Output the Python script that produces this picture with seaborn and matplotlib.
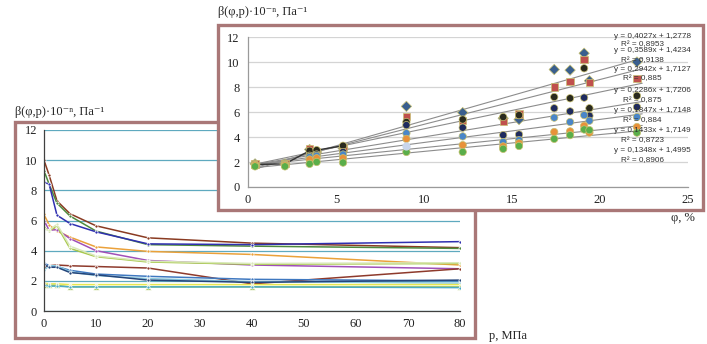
import numpy as np
import pandas as pd
import matplotlib
matplotlib.use("Agg")
import matplotlib.pyplot as plt
from matplotlib.patches import Rectangle
import seaborn as sns

# === LEFT PANEL DATA: beta vs pressure ===
p_mpa = [0, 1, 2.5, 5, 10, 20, 40, 80]
left_series = {
    "s1": [10.0, 9.0, 7.3, 6.45, 5.65, 4.85, 4.5, 4.2],
    "s2": [9.3, 8.4, 7.15, 6.3, 5.3, 4.4, 4.3, 4.15],
    "s3": [8.55, 8.4, 6.35, 5.8, 5.25, 4.45, 4.4, 4.6],
    "s4": [6.4, 5.7, 5.3, 4.9, 4.25, 3.95, 3.75, 3.05],
    "s5": [6.0, 5.35, 5.4, 4.8, 4.0, 3.35, 3.05, 2.8],
    "s6": [5.55, 5.3, 5.65, 4.15, 3.6, 3.25, 3.1, 3.15],
    "s7": [5.45, 5.35, 5.75, 4.3, 3.65, 3.3, 3.15, 3.2],
    "s8": [2.95, 3.0, 3.05, 3.0, 2.95, 2.85, 1.8, 2.8],
    "s9": [3.2, 3.0, 2.95, 2.7, 2.45, 2.3, 2.1, 2.0],
    "s10": [2.7, 3.0, 3.0, 2.6, 2.35, 2.15, 1.95, 1.85],
    "s11": [3.1, 2.9, 2.9, 2.55, 2.4, 2.05, 1.9, 2.05],
    "s12": [1.85, 1.8, 1.8, 1.75, 1.75, 1.75, 1.75, 1.75],
    "s13": [1.75, 1.7, 1.7, 1.6, 1.6, 1.6, 1.6, 1.6],
    "s14": [1.7, 1.65, 1.65, 1.6, 1.6, 1.6, 1.6, 1.55],
}
left_colors = {
    "s1": "#8a3b22", "s2": "#4e8a3e", "s3": "#2f2fb0", "s4": "#eba13a",
    "s5": "#a050b8", "s6": "#a8c84c", "s7": "#d9e8b8", "s8": "#8e3a2c",
    "s9": "#3f78c0", "s10": "#8ccbe0", "s11": "#25457a", "s12": "#e8e850",
    "s13": "#a6c65a", "s14": "#4bacc6",
}

# === RIGHT PANEL DATA: beta vs porosity ===
phi = [0.4, 2.1, 3.5, 3.9, 5.4, 9.0, 12.2, 14.5, 15.4, 17.4, 18.3, 19.1, 19.4, 22.1]
right_series = {
    "diamond": [1.85, 1.85, 3.0, 2.8, 3.1, 6.45, 5.95, 5.5, 5.4, 9.4, 9.35, 10.7, 8.5, 10.0],
    "square": [1.85, 1.9, 3.05, 2.8, 3.15, 5.65, 5.3, 5.25, 5.85, 8.0, 8.45, 10.2, 8.35, 8.7],
    "olive": [1.8, 1.85, 2.9, 2.95, 3.3, 5.2, 5.4, 5.6, 5.75, 7.2, 7.1, 9.5, 6.3, 7.3],
    "navy": [1.8, 1.8, 2.5, 2.6, 2.8, 4.95, 4.75, 4.15, 4.2, 6.3, 6.05, 7.15, 5.7, 6.4],
    "blue": [1.75, 1.8, 2.4, 2.5, 2.6, 4.3, 4.05, 3.6, 3.75, 5.55, 5.2, 5.75, 5.3, 5.6],
    "orange": [1.75, 1.75, 2.2, 2.3, 2.3, 3.85, 3.35, 3.25, 3.5, 4.4, 4.45, 4.9, 4.35, 4.8],
    "green": [1.65, 1.65, 1.85, 2.0, 1.95, 2.8, 2.8, 3.05, 3.28, 3.85, 4.15, 4.6, 4.55, 4.35],
}
right_colors = {
    "diamond": "#3a5f8e", "square": "#c0504d", "olive": "#2a2a1e", "navy": "#1f2b5e",
    "blue": "#4a86c8", "orange": "#e8913a", "green": "#5aae4a",
}
right_markers = {
    "diamond": "D", "square": "s", "olive": "o", "navy": "o",
    "blue": "o", "orange": "o", "green": "o",
}
slopes = [0.4027, 0.3589, 0.2942, 0.2286, 0.1847, 0.1433, 0.1348]
intercepts = [1.2778, 1.4234, 1.7127, 1.7206, 1.7148, 1.7149, 1.4995]
r2 = ["0,8953", "0,9138", "0,885", "0,875", "0,884", "0,8723", "0,8906"]
eq_y = [12.08, 10.92, 9.42, 7.72, 6.12, 4.52, 2.92]
r2_y = [11.42, 10.08, 8.68, 6.94, 5.34, 3.68, 2.08]

title_text = "\u03b2(\u03c6,p)\u00b710\u207b\u207f, \u041f\u0430\u207b\u00b9"
serif = ["Liberation Serif", "DejaVu Serif"]
sans = ["Liberation Sans", "DejaVu Sans"]

sns.set_theme(style="white")
plt.rcParams["font.family"] = serif

fig = plt.figure(figsize=(7.07, 3.44), dpi=100)
frame_col = "#a97777"

# === LEFT PANEL ===
axl = fig.add_axes([0.0622, 0.0959, 0.5884, 0.5262], zorder=1)
axl.patch.set_alpha(0)
long_left = pd.DataFrame(
    [(p, v, k) for k, vals in left_series.items() for p, v in zip(p_mpa, vals)],
    columns=["p", "beta", "series"],
)
for name, grp in long_left.groupby("series", sort=False):
    mk = "^" if name == "s13" else "o"
    ms = 4.5 if name == "s13" else 2.2
    sns.lineplot(data=grp, x="p", y="beta", ax=axl, color=left_colors[name],
                 lw=1.1, marker=mk, markersize=ms, markeredgewidth=0.5,
                 legend=False)
axl.set_xlim(0, 80)
axl.set_ylim(0, 12)
axl.set_xticks(range(0, 81, 10))
axl.set_yticks(range(0, 13, 2))
axl.yaxis.grid(True, color="#5fa9bf", lw=0.9)
axl.xaxis.grid(False)
axl.set_axisbelow(True)
for s in ["top", "right"]:
    axl.spines[s].set_visible(False)
for s in ["left", "bottom"]:
    axl.spines[s].set_color("#404040")
    axl.spines[s].set_linewidth(0.9)
axl.tick_params(axis="both", labelsize=9, colors="#222222", length=3,
                width=0.8, direction="out", pad=2)
axl.set_xlabel("")
axl.set_ylabel("")

fig.add_artist(Rectangle((0.0212, 0.0174), 0.6506, 0.628, transform=fig.transFigure,
                         fill=False, ec=frame_col, lw=2.4, zorder=2))
fig.text(0.0212, 0.674, title_text, fontsize=9, va="center", ha="left", family=serif)
fig.text(0.718, 0.005, "p, \u041c\u041f\u0430", fontsize=9, va="bottom", ha="center",
         family=serif)

# === RIGHT PANEL ===
fig.add_artist(Rectangle((0.3083, 0.3895), 0.686, 0.5378, transform=fig.transFigure,
                         fc="white", ec=frame_col, lw=2.4, zorder=3))
axr = fig.add_axes([0.3508, 0.4564, 0.6223, 0.436], zorder=4)
axr.patch.set_alpha(0)
long_right = pd.DataFrame(
    [(x, v, k) for k, vals in right_series.items() for x, v in zip(phi, vals)],
    columns=["phi", "beta", "series"],
)

# trend lines from the fitted equations
x_line = np.array([phi[0], phi[-1] + 0.3])
for a, b in zip(slopes, intercepts):
    axr.plot(x_line, a * x_line + b, color="#8c8c8c", lw=0.8, zorder=2)

# early segment of dark series
early = long_right[(long_right["series"] == "olive") & (long_right["phi"] <= 5.4)]
sns.lineplot(data=early, x="phi", y="beta", ax=axr, color="#333333", lw=1.0,
             legend=False, zorder=2)

sns.scatterplot(data=long_right, x="phi", y="beta", hue="series", style="series",
                palette=right_colors, markers=right_markers, s=28, ax=axr,
                edgecolor="#c8c070", linewidth=0.5, legend=False, zorder=3)
axr.scatter([9.0], [3.25], s=24, color="#c9d6ec", zorder=3)

axr.set_xlim(0, 25)
axr.set_ylim(0, 12)
axr.set_xticks(range(0, 26, 5))
axr.set_yticks(range(0, 13, 2))
axr.yaxis.grid(True, color="#d4d4d4", lw=0.9)
axr.xaxis.grid(False)
axr.set_axisbelow(True)
for s in ["top", "right"]:
    axr.spines[s].set_visible(False)
for s in ["left", "bottom"]:
    axr.spines[s].set_color("#9a9a9a")
    axr.spines[s].set_linewidth(0.9)
axr.tick_params(axis="x", labelsize=9, colors="#222222", length=3, width=0.8,
                direction="out", pad=2)
axr.tick_params(axis="y", labelsize=9, colors="#222222", length=0, pad=6)
axr.set_xlabel("")
axr.set_ylabel("")

for a, b, r, ye, yr in zip(slopes, intercepts, r2, eq_y, r2_y):
    eq = f"y = {a:.4f}x + {b:.4f}".replace(".", ",")
    axr.text(23.0, ye, eq, fontsize=5.9, ha="center", va="center", color="#333333",
             family=sans, clip_on=False, zorder=5)
    axr.text(22.4, yr, f"R\u00b2 = {r}", fontsize=5.9, ha="center", va="center",
             color="#333333", family=sans, clip_on=False, zorder=5)

fig.text(0.3083, 0.965, title_text, fontsize=9, va="center", ha="left", family=serif)
fig.text(0.966, 0.366, "\u03c6, %", fontsize=9, va="center", ha="center", family=serif)

fig.savefig("out.png", dpi=100)
